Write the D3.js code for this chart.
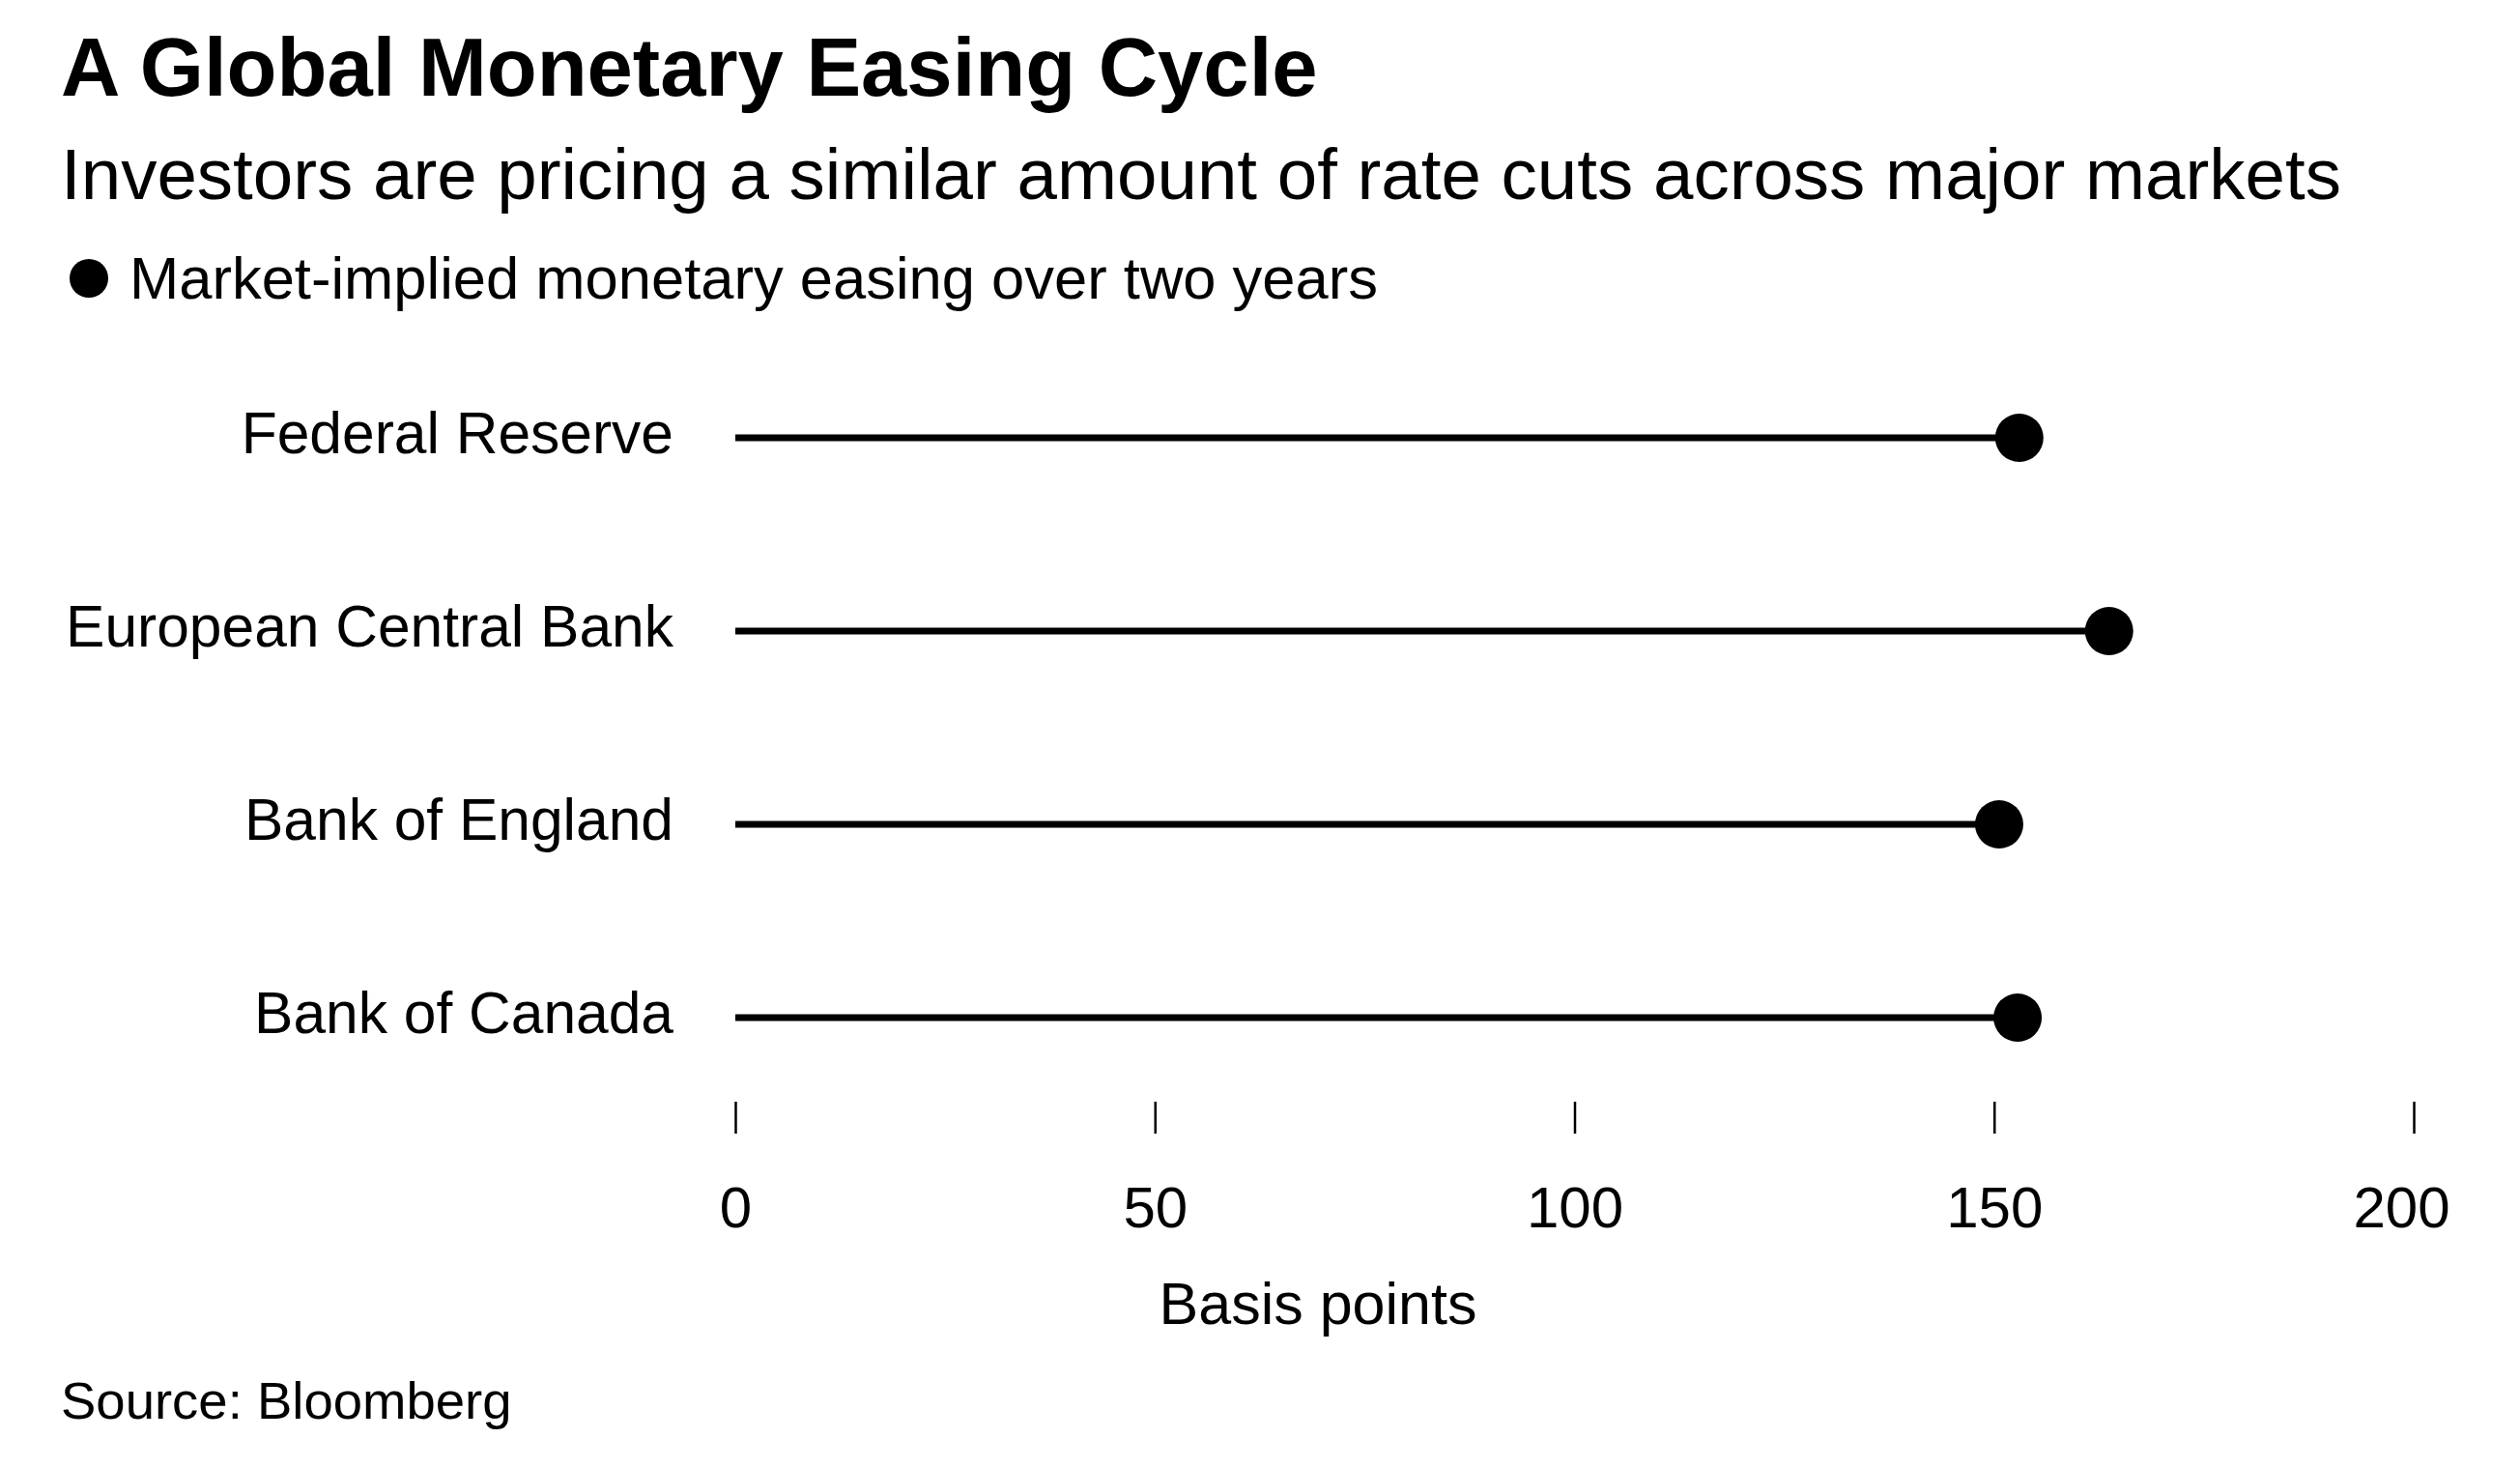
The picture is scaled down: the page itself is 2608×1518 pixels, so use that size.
<!DOCTYPE html>
<html>
<head>
<meta charset="utf-8">
<script src="https://cdn.jsdelivr.net/npm/d3@7"></script>
<style>
    body { margin: 0; background: #fff; }
    svg text { font-family: "Liberation Sans", Arial, sans-serif; fill: #000; }
</style>
</head>
<body>
<div id="container"></div>
<script>
const banks = ['Federal Reserve', 'European Central Bank', 'Bank of England', 'Bank of Canada'];
const easing = [153, 163.7, 150.6, 152.8];
const ticks = [0, 50, 100, 150, 200];

const title = 'A Global Monetary Easing Cycle';
const subtitle = 'Investors are pricing a similar amount of rate cuts across major markets';
const legendLabel = 'Market-implied monetary easing over two years';
const axisLabel = 'Basis points';
const source = 'Source: Bloomberg';

const width = 2608;
const height = 1518;
const left = 63;

const x = d3.scaleLinear().domain([0, 200]).range([761, 2498]);
const y = d3.scalePoint().domain(banks).range([453, 1053]);

const svg = d3.select('#container').append('svg')
    .attr('width', width)
    .attr('height', height);

svg.append('text')
    .attr('x', left)
    .attr('y', 99)
    .style('font-size', '85px')
    .style('font-weight', 'bold')
    .text(title);

svg.append('text')
    .attr('x', left)
    .attr('y', 206)
    .style('font-size', '74.5px')
    .text(subtitle);

// legend
svg.append('circle')
    .attr('cx', 92)
    .attr('cy', 288)
    .attr('r', 20)
    .style('fill', '#000');

svg.append('text')
    .attr('x', 134)
    .attr('y', 309)
    .style('font-size', '61.5px')
    .text(legendLabel);

const data = banks.map((b, i) => ({ bank: b, value: easing[i] }));

const rows = svg.append('g').selectAll('g').data(data).enter().append('g')
    .attr('transform', (d) => `translate(0 ${y(d.bank)})`);

rows.append('text')
    .attr('x', 697)
    .attr('dy', 16)
    .attr('text-anchor', 'end')
    .style('font-size', '60.5px')
    .text((d) => d.bank);

rows.append('line')
    .attr('x1', x(0))
    .attr('x2', (d) => x(d.value))
    .style('stroke', '#000')
    .style('stroke-width', 7);

rows.append('circle')
    .attr('cx', (d) => x(d.value))
    .attr('r', 25)
    .style('fill', '#000');

const axis = d3.axisBottom(x)
    .tickValues(ticks)
    .tickSize(33)
    .tickPadding(54)
    .tickFormat(d3.format('d'));

const axisGroup = svg.append('g')
    .attr('transform', 'translate(0 1140)')
    .call(axis);

axisGroup.select('.domain').remove();
axisGroup.selectAll('.tick line')
    .style('stroke', '#000')
    .style('stroke-width', 2.5);
axisGroup.selectAll('.tick text')
    .attr('font-family', null)
    .attr('font-size', null)
    .style('font-size', '60px')
    .style('fill', '#000');
// keep the last label inside the plot edge
axisGroup.selectAll('.tick text').filter((d) => d === 200).attr('dx', -13);

svg.append('text')
    .attr('x', 1364)
    .attr('y', 1370)
    .attr('text-anchor', 'middle')
    .style('font-size', '61px')
    .text(axisLabel);

svg.append('text')
    .attr('x', left)
    .attr('y', 1468)
    .style('font-size', '54.5px')
    .text(source);
</script>
</body>
</html>
